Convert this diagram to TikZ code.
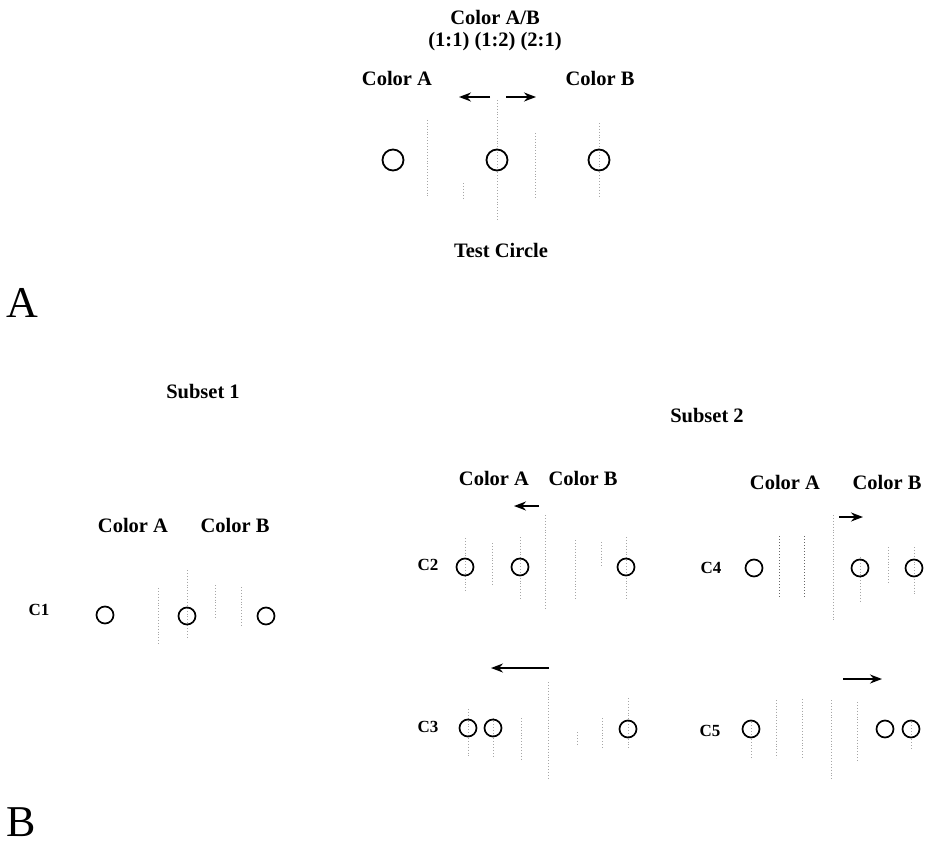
\documentclass[tikz,border=0pt]{standalone}
\usepackage{fontspec}
\setmainfont{Liberation Serif}
\usetikzlibrary{arrows.meta}
\begin{document}
\begin{tikzpicture}[x=1pt,y=-1pt,
  lbl/.style={font=\bfseries\fontsize{20.5}{24}\selectfont, inner sep=0pt},
  clbl/.style={font=\bfseries\fontsize{17}{20}\selectfont, inner sep=0pt},
  big/.style={font=\fontsize{44}{48}\selectfont, inner sep=0pt},
  ring/.style={circle, draw, line width=1.8pt, minimum size=21pt, inner sep=0pt},
  sring/.style={circle, draw, line width=1.7pt, minimum size=17pt, inner sep=0pt},
  guide/.style={draw=black!35, dotted, line width=0.9pt},
  dguide/.style={draw=black!60, dotted, line width=1pt},
  arr/.style={-{Stealth[length=12pt,width=9pt]}, line width=1.8pt}]
\useasboundingbox (0,0) rectangle (925,845);

% ---------------- Panel A ----------------
\node[lbl] (ab) at (495,17) {Color A/B};
\node[lbl] (ratio) at (495,42) {(1:1) (1:2) (2:1)};
\node[lbl] (ta) at (397,78) {Color A};
\node[lbl] (tb) at (600,78) {Color B};
\coordinate (al1) at (490,97); \coordinate (al2) at (459,97);
\coordinate (ar1) at (506,97); \coordinate (ar2) at (536,97);
\draw[arr] (al1) -- (al2);
\draw[arr] (ar1) -- (ar2);
\draw[guide] (427,120) -- (427,198);
\draw[guide] (463,183) -- (463,198);
\draw[guide] (497,100) -- (497,220);
\draw[guide] (535,133) -- (535,198);
\draw[guide] (599,123) -- (599,197);
\node[ring] (t1) at (393,160) {};
\node[ring] (t2) at (497,160) {};
\node[ring] (t3) at (599,160) {};
\node[lbl] (tc) at (501,250) {Test Circle};
\node[big] (pa) at (22,303) {A};

% ---------------- Panel B ----------------
\node[lbl] (s1) at (203,392) {Subset 1};
\node[lbl] (s2) at (707,416) {Subset 2};

% C1
\node[lbl] (c1a) at (133,525) {Color A};
\node[lbl] (c1b) at (235,525) {Color B};
\node[clbl] (c1) at (39,610) {C1};
\draw[guide] (158,588) -- (158,645);
\draw[guide] (187,570) -- (187,638);
\draw[guide] (215,585) -- (215,618);
\draw[guide] (241,587) -- (241,627);
\node[sring] (c1o1) at (105,615) {};
\node[sring] (c1o2) at (187,616) {};
\node[sring] (c1o3) at (266,616) {};

% C2
\node[lbl] (c2a) at (494,478) {Color A};
\node[lbl] (c2b) at (583,478) {Color B};
\coordinate (c2s) at (539,506); \coordinate (c2e) at (514,506);
\draw[arr] (c2s) -- (c2e);
\node[clbl] (c2) at (428,565) {C2};
\draw[guide] (465,538) -- (465,593);
\draw[guide] (492,543) -- (492,585);
\draw[guide] (520,537) -- (520,598);
\draw[guide] (545,515) -- (545,608);
\draw[guide] (575,540) -- (575,600);
\draw[guide] (601,542) -- (601,567);
\draw[guide] (626,537) -- (626,599);
\node[sring] (c2o1) at (465,567) {};
\node[sring] (c2o2) at (520,567) {};
\node[sring] (c2o3) at (626,567) {};

% C4
\node[lbl] (c4a) at (785,482) {Color A};
\node[lbl] (c4b) at (887,482) {Color B};
\coordinate (c4s) at (839,517); \coordinate (c4e) at (863,517);
\draw[arr] (c4s) -- (c4e);
\node[clbl] (c4) at (711,568) {C4};
\draw[dguide] (779,536) -- (779,598);
\draw[dguide] (804,536) -- (804,598);
\draw[guide] (833,515) -- (833,620);
\draw[guide] (860,557) -- (860,602);
\draw[guide] (888,547) -- (888,582);
\draw[guide] (914,547) -- (914,595);
\node[sring] (c4o1) at (754,568) {};
\node[sring] (c4o2) at (860,568) {};
\node[sring] (c4o3) at (914,568) {};

% C3
\coordinate (c3s) at (549,668); \coordinate (c3e) at (491,668);
\draw[arr] (c3s) -- (c3e);
\node[clbl] (c3) at (428,727) {C3};
\draw[guide] (468,709) -- (468,758);
\draw[guide] (493,718) -- (493,756);
\draw[guide] (521,718) -- (521,759);
\draw[guide] (548,682) -- (548,778);
\draw[guide] (577,732) -- (577,744);
\draw[guide] (602,718) -- (602,748);
\draw[guide] (628,698) -- (628,748);
\node[sring] (c3o1) at (468,728) {};
\node[sring] (c3o2) at (493,728) {};
\node[sring] (c3o3) at (628,729) {};

% C5
\coordinate (c5s) at (843,679); \coordinate (c5e) at (882,679);
\draw[arr] (c5s) -- (c5e);
\node[clbl] (c5) at (710,731) {C5};
\draw[guide] (751,722) -- (751,758);
\draw[guide] (776,700) -- (776,758);
\draw[guide] (802,699) -- (802,759);
\draw[guide] (831,700) -- (831,779);
\draw[guide] (857,702) -- (857,761);
\draw[guide] (911,722) -- (911,750);
\node[sring] (c5o1) at (751,729) {};
\node[sring] (c5o2) at (885,729) {};
\node[sring] (c5o3) at (911,729) {};

\node[big] (pb) at (21,822) {B};
\end{tikzpicture}
\end{document}
